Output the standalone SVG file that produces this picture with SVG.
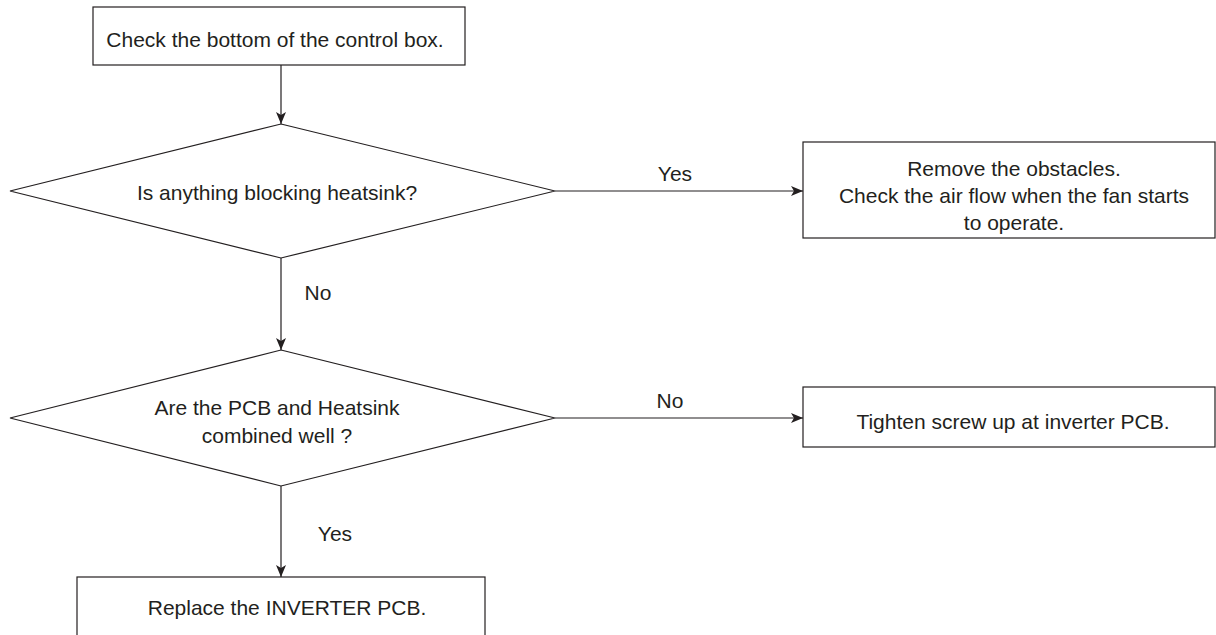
<svg xmlns="http://www.w3.org/2000/svg" width="1216" height="635" viewBox="0 0 1216 635">
<defs>
<style>
.n{fill:#fff;stroke:#231f20;stroke-width:1.2}
.t{font-family:"Liberation Sans",Arial,sans-serif;font-size:21px;fill:#231f20;text-anchor:middle;dominant-baseline:central}
.c{stroke:#231f20;stroke-width:1.2;fill:none;marker-end:url(#ah)}
</style>
<marker id="ah" viewBox="0 0 12 10" refX="12" refY="5" markerWidth="12" markerHeight="10" markerUnits="userSpaceOnUse" orient="auto">
<path d="M0,0 L12,5 L0,10 L3,5 Z" fill="#231f20"/>
</marker>
</defs>
<rect width="1216" height="635" fill="#fff"/>
<g id="connectors">
<line class="c" x1="281" y1="65" x2="281" y2="124"/>
<line class="c" x1="555" y1="191" x2="803" y2="191"/>
<line class="c" x1="281" y1="258" x2="281" y2="350"/>
<line class="c" x1="555" y1="418" x2="803" y2="418"/>
<line class="c" x1="281" y1="486" x2="281" y2="577"/>
<text class="t" x="675" y="173">Yes</text>
<text class="t" x="318" y="292">No</text>
<text class="t" x="670" y="400">No</text>
<text class="t" x="335" y="533">Yes</text>
</g>
<g id="start">
<rect class="n" x="93" y="7" width="372" height="58"/>
<text class="t" x="275" y="39">Check the bottom of the control box.</text>
</g>
<g id="d1">
<polygon class="n" points="281,124 555,191 281,258 10,191"/>
<text class="t" x="277" y="192">Is anything blocking heatsink?</text>
</g>
<g id="remove">
<rect class="n" x="803" y="142" width="412" height="96"/>
<text class="t" x="1014" y="168">Remove the obstacles.</text>
<text class="t" x="1014" y="195">Check the air flow when the fan starts</text>
<text class="t" x="1014" y="222">to operate.</text>
</g>
<g id="d2">
<polygon class="n" points="281,350 555,418 281,486 10,418"/>
<text class="t" x="277" y="407">Are the PCB and Heatsink</text>
<text class="t" x="277" y="435">combined well ?</text>
</g>
<g id="tighten">
<rect class="n" x="803" y="387" width="412" height="60"/>
<text class="t" x="1013" y="421">Tighten screw up at inverter PCB.</text>
</g>
<g id="replace">
<rect class="n" x="77" y="577" width="408" height="70"/>
<text class="t" x="287" y="607">Replace the INVERTER PCB.</text>
</g>
</svg>
